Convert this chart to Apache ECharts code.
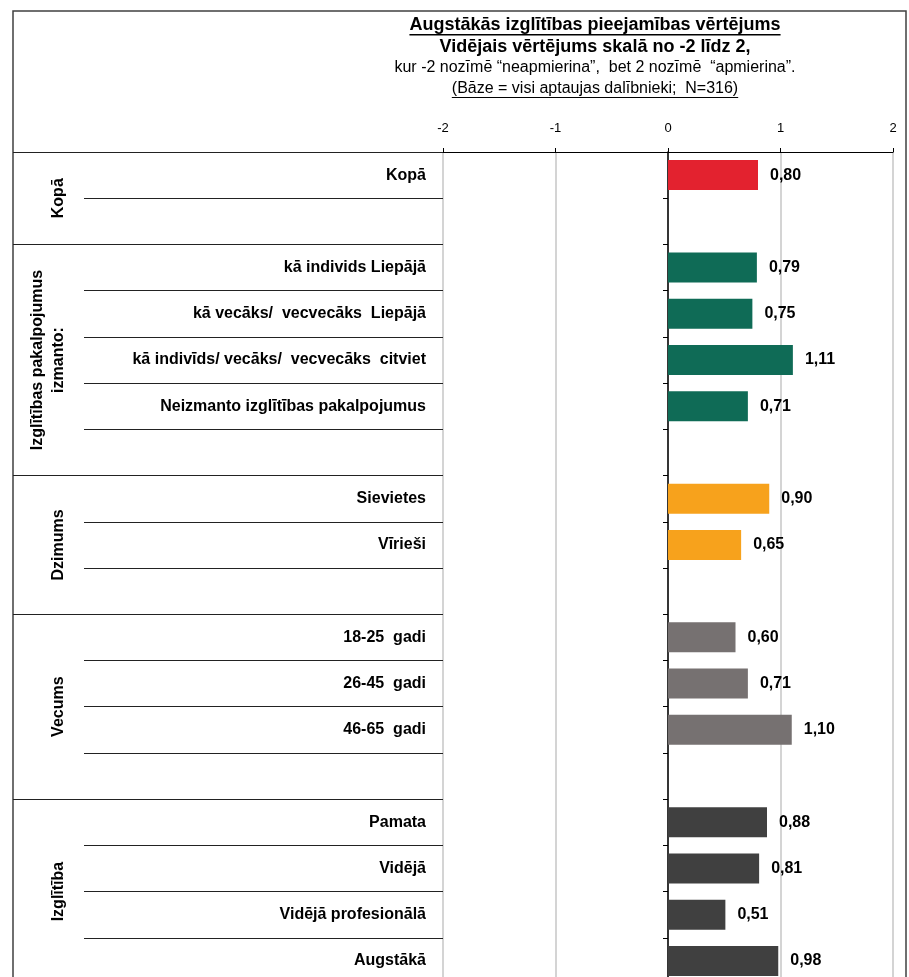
<!DOCTYPE html>
<html>
<head>
<meta charset="utf-8">
<script src="https://cdn.jsdelivr.net/npm/echarts@6/dist/echarts.min.js"></script>
<style>
  html, body { margin: 0; padding: 0; background: #fff; }
  #chart { width: 909px; height: 977px; }
</style>
</head>
<body>
<div id="chart"></div>
<script>
// rows of the chart, top to bottom ('' = empty spacer row)
const categories = [
  'Kopā', '',
  'kā individs Liepājā', 'kā vecāks/  vecvecāks  Liepājā',
  'kā indivīds/ vecāks/  vecvecāks  citviet', 'Neizmanto izglītības pakalpojumus', '',
  'Sievietes', 'Vīrieši', '',
  '18-25  gadi', '26-45  gadi', '46-65  gadi', '',
  'Pamata', 'Vidējā', 'Vidējā profesionālā', 'Augstākā'
]
const values = [
  0.80, null,
  0.79, 0.75, 1.11, 0.71, null,
  0.90, 0.65, null,
  0.60, 0.71, 1.10, null,
  0.88, 0.81, 0.51, 0.98
]
// groups (first and last row index)
const groupNames = ['Kopā', 'Izglītības pakalpojumus\nizmanto:', 'Dzimums', 'Vecums', 'Izglītība']
const groupFrom = [0, 2, 7, 10, 14]
const groupTo = [1, 6, 9, 13, 17]
const groupColors = ['#e3222f', '#0f6b56', '#f7a21c', '#767171', '#404040']

const xTicks = {min: -2, max: 2, interval: 1}

const titleLines = [
  'Augstākās izglītības pieejamības vērtējums',
  'Vidējais vērtējums skalā no -2 līdz 2,',
  'kur -2 nozīmē “neapmierina”,  bet 2 nozīmē  “apmierina”.',
  '(Bāze = visi aptaujas dalībnieki;  N=316)'
]

const FONT = '"Liberation Sans", Arial, sans-serif'
const chart = echarts.init(document.getElementById('chart'))

function groupOf(i) {
  for (let g = 0; g < groupFrom.length; g++) {
    if (i >= groupFrom[g] && i <= groupTo[g]) return g
  }
  return 0
}

const barData = values.map((v, i) => ({
  value: v,
  itemStyle: {color: groupColors[groupOf(i)]}
}))

chart.setOption({
  animation: false,
  grid: {left: 443, top: 152, width: 450, height: 832, outerBoundsMode: 'none'},
  xAxis: {
    type: 'value',
    position: 'top',
    min: xTicks.min,
    max: xTicks.max,
    interval: xTicks.interval,
    axisLine: {show: true, lineStyle: {color: '#000', width: 1.2}},
    axisTick: {show: true, length: 4, lineStyle: {color: '#000'}},
    axisLabel: {color: '#000', fontSize: 13, fontFamily: FONT, margin: 17},
    splitLine: {show: true, lineStyle: {color: '#c6c6c6', width: 1.5}}
  },
  yAxis: [
    {
      // row labels + row separators
      type: 'category',
      inverse: true,
      data: categories,
      position: 'left',
      axisLine: {show: false, onZero: false},
      axisTick: {show: true, length: 359, lineStyle: {color: '#222', width: 1.2}},
      axisLabel: {
        color: '#000', fontSize: 16, fontWeight: 'bold', fontFamily: FONT,
        margin: 17, interval: 0
      },
      splitLine: {show: false}
    },
    {
      // group separators
      type: 'category',
      inverse: true,
      data: categories,
      position: 'left',
      axisLine: {show: false, onZero: false},
      axisTick: {
        show: true, length: 430,
        interval: (idx) => groupFrom.indexOf(idx) >= 0,
        lineStyle: {color: '#222', width: 1.2}
      },
      axisLabel: {show: false},
      splitLine: {show: false}
    },
    {
      // zero line
      type: 'category',
      inverse: true,
      data: categories,
      position: 'left',
      axisLine: {show: true, onZero: true, lineStyle: {color: '#000', width: 1.5}},
      axisTick: {show: true, length: 5, lineStyle: {color: '#000'}},
      axisLabel: {show: false},
      splitLine: {show: false}
    }
  ],
  series: [{
    type: 'bar',
    yAxisIndex: 0,
    barWidth: 30,
    data: barData,
    label: {
      show: true,
      position: 'right',
      distance: 12,
      color: '#000',
      fontSize: 16,
      fontWeight: 'bold',
      fontFamily: FONT,
      formatter: p => p.value.toFixed(2).replace('.', ',')
    }
  }]
})

// title + group labels
const ctx = document.createElement('canvas').getContext('2d')
function textWidth(s, font) {
  ctx.font = font
  return ctx.measureText(s).width
}

const graphics = []
graphics.push({
  type: 'rect', silent: true, z: 0,
  shape: {x: 13, y: 11, width: 893, height: 1000},
  style: {fill: 'none', stroke: '#404040', lineWidth: 1.5}
})

const titleCx = 595
const titleStyles = [
  {y: 25, size: 18, weight: 'bold', underline: true},
  {y: 47, size: 18, weight: 'bold', underline: false},
  {y: 68, size: 16, weight: 'normal', underline: false},
  {y: 89, size: 16, weight: 'normal', underline: true}
]
titleLines.forEach((s, i) => {
  const st = titleStyles[i]
  graphics.push({
    type: 'text', silent: true,
    x: titleCx, y: st.y,
    style: {
      text: s, fill: '#000', align: 'center', verticalAlign: 'middle',
      font: st.weight + ' ' + st.size + 'px ' + FONT
    }
  })
  if (st.underline) {
    const w = textWidth(s, st.weight + ' ' + st.size + 'px ' + FONT)
    graphics.push({
      type: 'rect', silent: true,
      shape: {x: titleCx - w / 2, y: st.y + st.size * 0.5, width: w, height: st.size > 17 ? 1.5 : 1},
      style: {fill: '#000'}
    })
  }
})

groupNames.forEach((name, g) => {
  const y1 = chart.convertToPixel({yAxisIndex: 0}, groupFrom[g])
  const y2 = chart.convertToPixel({yAxisIndex: 0}, groupTo[g])
  graphics.push({
    type: 'text', silent: true,
    x: 69, y: (y1 + y2) / 2,
    rotation: Math.PI / 2,
    style: {
      text: name, fill: '#000', align: 'center', verticalAlign: 'bottom',
      font: 'bold 16px ' + FONT, lineHeight: 21
    }
  })
})

chart.setOption({graphic: graphics})
</script>
</body>
</html>
